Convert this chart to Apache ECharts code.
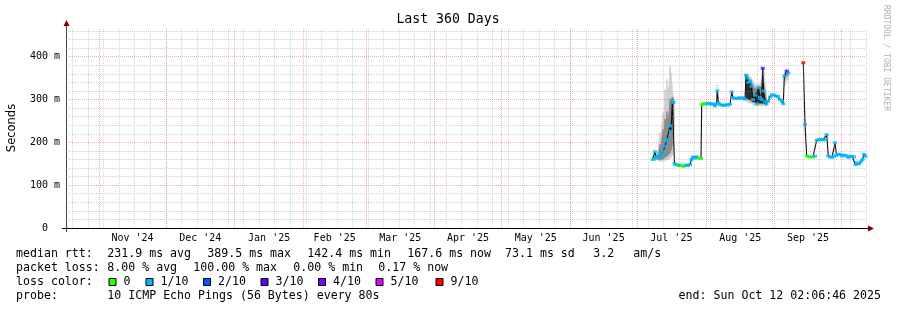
<!DOCTYPE html>
<html><head><meta charset="utf-8">
<script src="https://cdn.jsdelivr.net/npm/echarts@6/dist/echarts.min.js"></script>
<style>html,body{margin:0;padding:0;background:#fff}#c{width:897px;height:310px}</style>
</head><body><div id="c"></div>
<script>
// ---------- data ----------
const END_TIME = [2025, 9, 12, 2, 6, 46]; // Sun Oct 12 02:06:46 2025
const SPAN_DAYS = 360;
const Y_MAX = 467;

// median rtt: day offset from graph start, value in ms, loss level index
const medDays = [263.9,264.6,265.05,265.5,266.4,267.3,267.98,268.65,269.55,270.23,270.9,271.8,272.25,272.84,273.38,273.83,274.5,275.4,276.3,277.2,278.1,279.0,279.9,280.8,281.48,282.15,283.05,283.95,284.85,285.75,
  286.07,286.65,287.55,288.45,289.35,290.25,291.15,292.05,292.73,293.09,293.63,294.3,295.2,296.1,297.0,297.9,298.8,299.57,300.15,301.05,301.95,302.85,303.75,304.65,305.55,
  306.0,306.59,307.13,307.8,308.48,309.15,310.05,310.95,311.54,312.3,312.98,313.52,313.88,314.55,315.23,315.9,316.8,317.7,318.6,319.5,320.4,321.3,322.2,322.79,323.24,324.32,325.04,
  328.5,
  331.79,332.55,333.32,334.35,335.25,336.15,337.05,337.82,338.85,339.75,340.65,341.55,342.32,343.04,343.8,344.7,345.6,346.05,346.73,347.4,348.3,349.2,350.1,351.0,351.99,352.8,353.7,354.6,355.28,355.95,356.85,357.75,358.43,359.1,359.78];
const medValues = [160,161,178,166,165,167,172,179,191,203,207,238,226,296,293,150,148,146,147,145,144,147,146,148,160,166,163,166,163,162,
  288,290,290,290,291,289,290,285,290,320,292,288,287,286,288,287,289,318,304,302,303,304,303,304,301,
  357,350,340,343,331,300,310,290,328,305,300,373,320,295,290,296,306,311,310,308,307,300,296,290,355,366,362,
  null,
  386,242,168,166,166,166,168,205,206,207,206,206,218,168,166,165,167,199,170,172,172,168,170,169,165,168,167,166,148,152,150,155,160,172,167.6];
const medLoss = [0,1,1,1,1,1,1,1,1,1,1,1,1,1,1,1,1,0,1,0,0,1,1,1,1,1,1,1,0,0,
  0,0,0,1,1,1,1,1,1,1,1,1,1,1,1,1,1,1,1,1,1,1,1,1,1,
  1,1,1,1,1,1,1,1,1,1,1,3,1,1,1,1,1,1,1,1,1,1,1,1,1,3,1,
  null,
  6,1,0,0,0,0,1,1,1,1,1,1,1,1,1,1,1,1,1,1,1,1,1,1,1,1,1,1,1,1,1,1,1,1,1];

// smoke (spread of the pings): outer (light) and inner (mid grey) bands
const smokeDays = [264.6,265.5,266.4,267.3,267.75,268.2,268.65,269.1,269.55,270.0,270.45,270.9,271.35,271.8,272.25,272.7,273.15,273.6, 273.7,
  292.73,293.09,293.63, 293.9,
  306.0,307.13,308.48,310.05,311.54,312.98,313.88,315.23, 315.5,
  323.24,324.32,325.04];
const smokeLow  = [158,160,158,156,156,157,158,158,158,159,160,160,161,162,165,168,172,175, null, 288,290,288, null, 298,292,290,285,285,285,285,285, null, 330,345,345];
const smokeHigh = [168,172,180,223,200,245,270,240,323,295,347,310,330,378,362,335,312,300, null, 300,335,300, null, 360,358,350,335,335,340,375,310, null, 362,372,368];
const innerLow  = [160,162,160,160,160,161,162,163,165,166,168,170,172,175,180,190,210,230, null, null,null,null, null, 300,300,295,292,290,290,290,288, null, 345,355,355];
const innerHigh = [164,168,172,195,185,210,230,215,255,240,272,255,265,300,300,305,305,295, null, null,null,null, null, 350,350,340,325,328,330,340,300, null, 358,368,365];
// dense core (near-black) where the median oscillates quickly
const coreDays = [306.0,306.59,307.13,307.8,308.48,309.15,310.05,310.95,311.54,312.3,312.98,313.52,313.88,314.55,315.23];
const coreLow  = [300,305,300,300,300,295,295,292,292,292,292,292,292,290,288];
const coreHigh = [352,350,340,340,330,305,310,320,328,310,305,340,320,300,295];

const lossLabels = ['0','1/10','2/10','3/10','4/10','5/10','9/10'];
const lossColors = ['#26ff00','#00b8ff','#0059ff','#5e00ff','#7e00ff','#dd00ff','#ff0000'];

const rttStats  = ['231.9 ms avg','389.5 ms max','142.4 ms min','167.6 ms now','73.1 ms sd','3.2','am/s'];
const lossStats = ['8.00 % avg','100.00 % max','0.00 % min','0.17 % now'];
const probeText = '10 ICMP Echo Pings (56 Bytes) every 80s';
const endText = 'end: Sun Oct 12 02:06:46 2025';
const titleText = 'Last 360 Days';
const monthNames = ['Jan','Feb','Mar','Apr','May','Jun','Jul','Aug','Sep','Oct','Nov','Dec'];

// ---------- layout ----------
const L = {left:66, right:31, top:28, bottom:82};
const rttX = [107.3,207.3,307.3,407.3,505,593.3,633.3];
const lossX = [107.3,193.3,293.3,378.3];
const boxX = [108.5,145.5,203,260.5,318,375.5,435.5];
const rowY = [254,268,282,296];
const MONO = '"DejaVu Sans Mono", monospace';

// ---------- derived ----------
const DAY = 86400000;
const END_MS = Date.UTC(...END_TIME);
const START_MS = END_MS - SPAN_DAYS*DAY;
const ts = d => START_MS + d*DAY;

const medianData = medDays.map((d,i)=>[ts(d), medValues[i]]);
const lossData = [];
medDays.forEach((d,i)=>{ if(medValues[i]!=null) lossData.push([ts(d), medValues[i], medLoss[i]]); });
// band segments: [t0, lo0, hi0, t1, lo1, hi1]
const bandSegs = (days,lo,hi)=>{
  const out = [];
  for (let i=0;i<days.length-1;i++){
    if (lo[i]==null||hi[i]==null||lo[i+1]==null||hi[i+1]==null) continue;
    out.push([ts(days[i]), lo[i], hi[i], ts(days[i+1]), lo[i+1], hi[i+1]]);
  }
  return out;
};
const outerSegs = bandSegs(smokeDays, smokeLow, smokeHigh);
const innerSegs = bandSegs(smokeDays, innerLow, innerHigh);
const coreSegs = bandSegs(coreDays, coreLow, coreHigh);
const bandRender = color => (params, api) => {
  const a = api.coord([api.value(0), api.value(1)]);
  const b = api.coord([api.value(0), api.value(2)]);
  const c = api.coord([api.value(3), api.value(5)]);
  const d = api.coord([api.value(3), api.value(4)]);
  return {type:'polygon', shape:{points:[a,b,c,d]}, style:{fill:color, stroke:color, lineWidth:0.6}};
};

// grid lines: month starts (major), Sundays (minor), 20 ms / 100 ms
const monthStarts = [];
const labelVals = [];
{
  const s = new Date(START_MS);
  let y = s.getUTCFullYear(), m = s.getUTCMonth();
  for (let k=0;k<16;k++){
    const a = Date.UTC(y,m,1), b = Date.UTC(y,m+1,1);
    if (a>=START_MS && a<=END_MS) monthStarts.push(a);
    const mid = (a+b)/2;
    if (mid>=START_MS && mid<=END_MS) labelVals.push(mid);
    m++; if(m>11){m=0;y++;}
  }
}
const weekLines = [];
{
  const s = new Date(START_MS);
  let t = Date.UTC(s.getUTCFullYear(), s.getUTCMonth(), s.getUTCDate()+1);
  while (new Date(t).getUTCDay()!==0) t += DAY;
  for (; t<=END_MS; t+=7*DAY) weekLines.push(t);
}
const GRID_MINOR = 'rgba(150,150,150,0.42)';
const GRID_MAJOR = 'rgba(230,90,90,0.5)';
const gridMarks = [];
weekLines.forEach(t=>gridMarks.push({xAxis:t, lineStyle:{color:GRID_MINOR}}));
for (let v=20; v<Y_MAX; v+=20) if (v%100) gridMarks.push({yAxis:v, lineStyle:{color:GRID_MINOR}});
monthStarts.forEach(t=>gridMarks.push({xAxis:t, lineStyle:{color:GRID_MAJOR}}));
for (let v=100; v<Y_MAX; v+=100) gridMarks.push({yAxis:v, lineStyle:{color:GRID_MAJOR}});

// ---------- graphics (legend/text) ----------
const gfx = [];
const txt = (x,y,s)=>gfx.push({type:'text', x, y, silent:true,
  style:{text:s, fill:'#000', font:'11.6px '+MONO, textAlign:'left', textVerticalAlign:'middle'}});
txt(16,rowY[0],'median rtt:');
rttStats.forEach((s,i)=>txt(rttX[i],rowY[0],s));
txt(16,rowY[1],'packet loss:');
lossStats.forEach((s,i)=>txt(lossX[i],rowY[1],s));
txt(16,rowY[2],'loss color:');
lossLabels.forEach((s,i)=>{
  gfx.push({type:'rect', silent:true, shape:{x:boxX[i]+0.5, y:rowY[2]-3.5, width:7, height:7},
    style:{fill:lossColors[i], stroke:'#000', lineWidth:1}});
  txt(boxX[i]+15,rowY[2],s);
});
txt(16,rowY[3],'probe:');
txt(107.3,rowY[3],probeText);
gfx.push({type:'text', x:881, y:rowY[3], silent:true,
  style:{text:endText, fill:'#000', font:'11.6px '+MONO, textAlign:'right', textVerticalAlign:'middle'}});
gfx.push({type:'text', x:890, y:5, rotation:-Math.PI/2, silent:true,
  style:{text:'RRDTOOL / TOBI OETIKER', fill:'#b0b0b0', font:'8px '+MONO, textAlign:'left', textVerticalAlign:'top'}});
gfx.push({type:'text', x:448, y:20, silent:true,
  style:{text:titleText, fill:'#000', font:'13.2px '+MONO, textAlign:'center', textVerticalAlign:'middle'}});
// axis extensions and arrows
gfx.push({type:'line', silent:true, shape:{x1:62, y1:228.5, x2:869, y2:228.5}, style:{stroke:'#000', lineWidth:1}});
gfx.push({type:'line', silent:true, shape:{x1:66.5, y1:232, x2:66.5, y2:24}, style:{stroke:'#2c4d43', lineWidth:1}});
gfx.push({type:'polygon', silent:true, shape:{points:[[63.5,26],[66.5,20],[69.5,26]]}, style:{fill:'#7f0000'}});
gfx.push({type:'polygon', silent:true, shape:{points:[[868,225.5],[874,228.5],[868,231.5]]}, style:{fill:'#7f0000'}});

const chart = echarts.init(document.getElementById('c'), null, {renderer:'canvas'});
chart.setOption({
  animation:false,
  backgroundColor:'#ffffff',
  grid:{left:L.left, right:L.right, top:L.top, bottom:L.bottom, containLabel:false, outerBoundsMode:'none'},
  xAxis:{type:'value', min:START_MS, max:END_MS,
    axisLine:{show:false}, axisTick:{show:false}, splitLine:{show:false}, minorSplitLine:{show:false},
    axisLabel:{customValues:labelVals, margin:5, color:'#000', fontFamily:MONO, fontSize:10,
      hideOverlap:false,
      formatter:v=>{const d=new Date(v); return monthNames[d.getUTCMonth()]+" '"+String(d.getUTCFullYear()).slice(2);}}},
  yAxis:{type:'value', min:0, max:Y_MAX, interval:100,
    name:'Seconds', nameLocation:'middle', nameGap:48,
    nameTextStyle:{fontFamily:'"DejaVu Sans", sans-serif', fontSize:11.5, color:'#000'},
    axisLine:{show:false}, axisTick:{show:false}, splitLine:{show:false},
    axisLabel:{margin:6, color:'#000', fontFamily:MONO, fontSize:10, showMaxLabel:false,
      formatter:v=> v===0 ? '0  ' : (v%100===0 ? v+' m' : '')}},
  graphic:gfx,
  series:[
    {type:'line', name:'grid', data:[], z:1, silent:true,
      markLine:{silent:true, symbol:['none','none'], label:{show:false}, animation:false,
        lineStyle:{type:[1,1], width:1}, data:gridMarks}},
    {type:'custom', name:'outerSmoke', data:outerSegs, z:2, silent:true,
      renderItem:bandRender('#d2d2d2'), encode:{x:[0,3], y:[1,2,4,5]}},
    {type:'custom', name:'innerSmoke', data:innerSegs, z:3, silent:true,
      renderItem:bandRender('#8c8c8c'), encode:{x:[0,3], y:[1,2,4,5]}},
    {type:'custom', name:'coreSmoke', data:coreSegs, z:3, silent:true,
      renderItem:bandRender('#2a2a2a'), encode:{x:[0,3], y:[1,2,4,5]}},
    {type:'line', name:'median', data:medianData, z:4, symbol:'none', silent:true, connectNulls:false,
      lineStyle:{color:'#111', width:1.1}},
    {type:'scatter', name:'loss', data:lossData, z:5, symbol:'rect', symbolSize:[4,3], silent:true,
      itemStyle:{color:p=>lossColors[p.value[2]]}}
  ]
});
</script></body></html>
